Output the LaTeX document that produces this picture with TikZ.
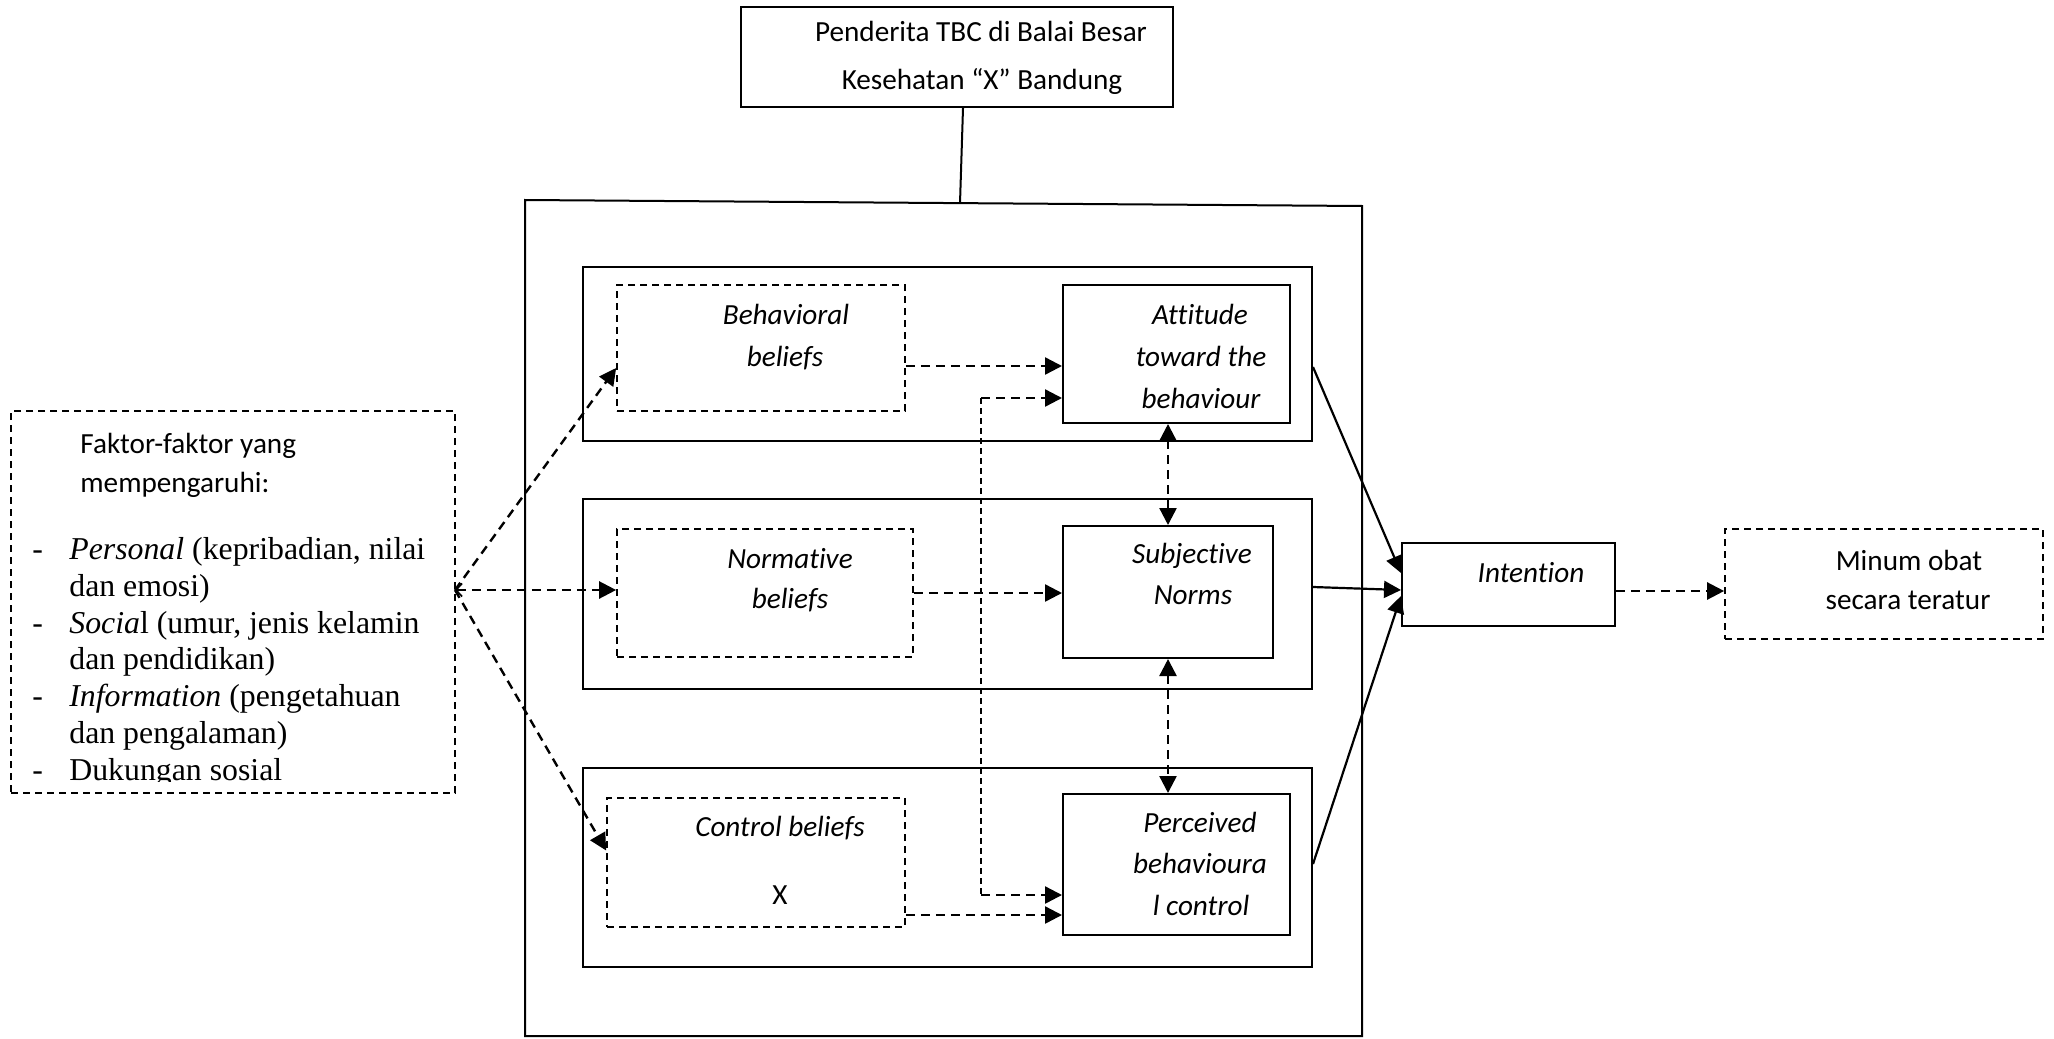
\documentclass[tikz,border=0pt]{standalone}
\usepackage{fontspec}
\setmainfont{Carlito}[Ligatures={NoCommon}]
\newfontfamily\tnr{Liberation Serif}
\usetikzlibrary{arrows.meta,fit,calc}
\newcommand\dsh{\makebox[18.5pt][l]{-}}
\newcommand\ind{\hspace*{18.5pt}}
\begin{document}
\begin{tikzpicture}[x=0.5pt,y=-0.5pt,
 sbox/.style={draw,line width=1pt,inner sep=0pt},
 dbox/.style={draw,line width=0.85pt,dash pattern=on 3.5pt off 2.5pt,inner sep=0pt},
 tx/.style={font=\fontsize{14.6}{17.5}\selectfont,inner sep=0pt,anchor=base},
 itx/.style={tx,font=\fontsize{14.6}{17.5}\selectfont\itshape},
 arrtip/.style={-{Triangle[length=8.5pt,width=8.5pt]}},
 darr/.style={line width=1.2pt,dash pattern=on 4.5pt off 3pt,arrtip},
 dbl/.style={line width=1.2pt,dash pattern=on 4.5pt off 3pt,{Triangle[length=8.5pt,width=8.5pt]}-{Triangle[length=8.5pt,width=8.5pt]}},
 sarr/.style={line width=1.1pt,arrtip},
]
\useasboundingbox (0,0) rectangle (2054,1038);

% top box
\node[sbox,fit={(741,7) (1173,107)}] (tbc) {};
\node[tx] (tbc1) at (981,41.5) {Penderita TBC di Balai Besar};
\node[tx] (tbc2) at (982,90) {Kesehatan “X” Bandung};

% outer frame
\draw[line width=1pt] (525,200) -- (1362,206) -- (1362,1036) -- (525,1036) -- cycle;
\coordinate (otop) at (960,203);
\draw[line width=1pt] ([xshift=3pt]tbc.south) -- (otop);

% inner rows
\node[sbox,fit={(583,267) (1312,441)}] (in1) {};
\node[sbox,fit={(583,499) (1312,689)}] (in2) {};
\node[sbox,fit={(583,768) (1312,967)}] (in3) {};

% belief boxes
\node[dbox,fit={(617,285) (905,411)}] (bb) {};
\node[dbox,fit={(617,529) (913,657)}] (nb) {};
\node[dbox,fit={(607,798) (905,927)}] (cb) {};

% construct boxes
\node[sbox,fit={(1063,285) (1290,423)}] (att) {};
\node[sbox,fit={(1063,526) (1273,658)}] (sn) {};
\node[sbox,fit={(1063,794) (1290,935)}] (pbc) {};

\node[sbox,fit={(1402,543) (1615,626)}] (int) {};
\node[dbox,fit={(1725,529) (2043,639)}] (minum) {};

% texts
\node[itx] (bb1) at (786,324) {Behavioral};
\node[itx] (bb2) at (785,366) {beliefs};
\node[itx] (att1) at (1200,324) {Attitude};
\node[itx] (att2) at (1201,366) {toward the};
\node[itx] (att3) at (1201,408) {behaviour};
\node[itx] (nb1) at (790,568) {Normative};
\node[itx] (nb2) at (790,608) {beliefs};
\node[itx] (sn1) at (1192,563) {Subjective};
\node[itx] (sn2) at (1193,604) {Norms};
\node[itx] (cb1) at (780,836) {Control beliefs};
\node[tx] (cbx) at (780,904) {X};
\node[itx] (pbc1) at (1200,832) {Perceived};
\node[itx] (pbc2) at (1200,873) {behavioura};
\node[itx] (pbc3) at (1201,915) {l control};
\node[itx] (int1) at (1531,582) {Intention};
\node[tx] (mo1) at (1909,570) {Minum obat};
\node[tx] (mo2) at (1908,609) {secara teratur};

% factor box
\node[dbox,fit={(11,411) (455,793)}] (faktor) {};
\node[tx,anchor=base west] (f1) at (80,453) {Faktor-faktor yang};
\node[tx,anchor=base west] (f2) at (80,492) {mempengaruhi:};
\begin{scope}
\clip (11,411) rectangle (455,781);
\node[font={\tnr\fontsize{15.9}{18.4}\selectfont},align=left,inner sep=0pt,anchor=north west] (flist) at (32,537)
 {\dsh\textit{Personal} (kepribadian, nilai\\
  \ind dan emosi)\\
  \dsh\textit{Socia}l (umur, jenis kelamin\\
  \ind dan pendidikan)\\
  \dsh\textit{Information} (pengetahuan\\
  \ind dan pengalaman)\\
  \dsh Dukungan sosial};
\end{scope}

% fan arrows
\coordinate (fo) at (455,590);
\draw[darr] (fo) -- ([yshift=-10pt]bb.west);
\draw[line width=1.2pt,dash pattern=on 4.5pt off 3pt,{Straight Barb[length=3pt,width=6.5pt,line width=0.8pt]}-{Triangle[length=8.5pt,width=8.5pt]}] (fo) -- (fo -| nb.west);
\draw[darr] (fo) -- ([yshift=6pt]cb.west);

% belief -> construct
\coordinate (a1) at ($(bb.east)+(0,18)$);
\draw[darr] (a1) -- (a1 -| att.west);
\draw[darr] (nb.east) -- (nb.east -| sn.west);
\coordinate (a3) at ($(cb.east)+(0,52.5)$);
\draw[darr] (a3) -- (a3 -| pbc.west);

% loop between attitude and pbc
\coordinate (lt) at ($(att.west)+(-81,44)$);
\coordinate (lb0) at ($(pbc.west)+(0,30.5)$);
\coordinate (lb) at (lt |- lb0);
\draw[line width=0.7pt,dash pattern=on 3pt off 2pt] (lt) -- (lb);
\draw[darr] (lt) -- (lt -| att.west);
\draw[darr] (lb) -- (lb0);

% vertical double arrows
\draw[dbl] (sn.north |- att.south) -- (sn.north);
\draw[dbl] (sn.south) -- (sn.south |- pbc.north);

% solid to intention
\coordinate (s1) at ($(in1.east)+(0,13)$);
\draw[sarr] (s1) -- ($(int.west)+(0,-11.5)$);
\coordinate (s2) at ($(in2.east)+(0,-7)$);
\draw[sarr] (s2) -- ($(int.west)+(0,5.5)$);
\coordinate (s3) at ($(in3.east)+(0,-3.5)$);
\draw[sarr] (s3) -- ($(int.west)+(0,11.5)$);

% intention -> outcome
\coordinate (m1) at ($(int.east)+(0,6.5)$);
\draw[darr] (m1) -- (m1 -| minum.west);
\end{tikzpicture}
\end{document}
